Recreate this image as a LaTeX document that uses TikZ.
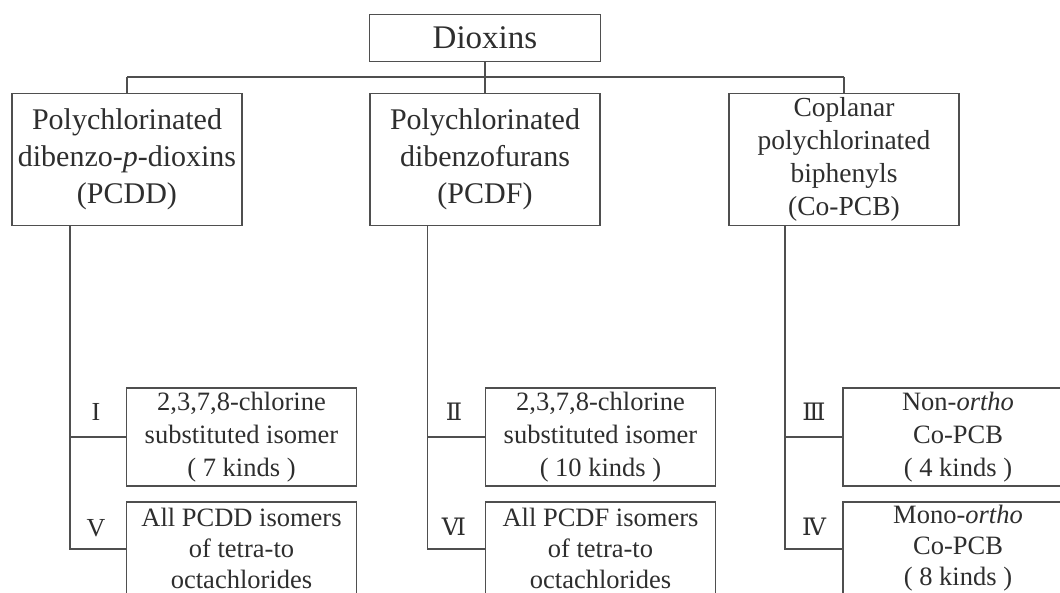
\documentclass[tikz,border=0pt]{standalone}
\usepackage{fontspec}
\setmainfont{Liberation Serif}
\newfontfamily\romfont{DejaVu Serif}
\definecolor{linec}{HTML}{4F4F4F}
\definecolor{textc}{HTML}{2E2E2E}
\begin{document}
\begin{tikzpicture}[x=1pt,y=-1pt,
  box/.style={draw=linec, line width=1.4pt, align=center, inner sep=0pt, text=textc},
  topbox/.style={box, minimum width=230pt, minimum height=132pt, font=\fontsize{30}{37}\selectfont},
  subbox/.style={box, minimum width=230pt, font=\fontsize{26.5}{33}\selectfont},
  subtext/.style={align=center, inner sep=0pt, text=textc, font=\fontsize{26.5}{31}\selectfont},
  conn/.style={draw=linec, line width=1.4pt},
  lab/.style={text=textc, inner sep=0pt, font=\fontsize{26}{30}\selectfont},
  rlab/.style={lab, font=\romfont\fontsize{24}{28}\selectfont}]
\useasboundingbox (0,0) rectangle (1060,593);
\clip (0,0) rectangle (1060,593);
\fill[white] (0,0) rectangle (1060,593);
% top
\node[box, minimum width=230.5pt, minimum height=46.5pt, font=\fontsize{33}{38}\selectfont] (dio) at (485,38) {Dioxins};
\node[topbox] (pcdd) at (127,159.5) {Polychlorinated\\dibenzo-\textit{p}-dioxins\\(PCDD)};
\node[topbox] (pcdf) at (485,159.5) {Polychlorinated\\dibenzofurans\\(PCDF)};
\node[topbox, font=\fontsize{27.5}{33}\selectfont] (copcb) at (844,159.5) {Coplanar\\polychlorinated\\biphenyls\\(Co-PCB)};
\coordinate (bar) at (485,77);
\draw[conn] (dio.south) -- (bar);
\draw[conn, line width=2pt] (pcdd.north |- bar) -- (copcb.north |- bar);
\draw[conn] (pcdd.north |- bar) -- (pcdd.north);
\draw[conn] (bar) -- (pcdf.north);
\draw[conn] (copcb.north |- bar) -- (copcb.north);
% sub boxes (upper row)
\node[subbox, minimum height=98pt] (b1) at (241.5,437) {2,3,7,8-chlorine\\substituted isomer\\( 7 kinds )};
\node[subbox, minimum height=98pt] (b2) at (600.5,437) {2,3,7,8-chlorine\\substituted isomer\\( 10 kinds )};
\node[subbox, minimum height=98pt] (b3) at (958,437) {Non-\textit{ortho}\\Co-PCB\\( 4 kinds )};
% sub boxes (lower row, cut by the page edge)
\node[box, minimum width=230pt, minimum height=94pt] (b5) at (241.5,549) {};
\node[box, minimum width=230pt, minimum height=94pt] (b6) at (600.5,549) {};
\node[box, minimum width=230pt, minimum height=94pt] (b4) at (958,549) {};
\node[subtext] (t5) at ([yshift=1pt]b5.center) {All PCDD isomers\\of tetra-to\\octachlorides};
\node[subtext] (t6) at ([yshift=1pt]b6.center) {All PCDF isomers\\of tetra-to\\octachlorides};
\node[subtext] (t4) at ([yshift=1pt]b4.center) {Mono-\textit{ortho}\\Co-PCB\\( 8 kinds )};
% stems
\coordinate (s1) at (70,225.5);
\coordinate (s2) at (427.7,225.5);
\coordinate (s3) at (785,225.5);
\draw[conn] (s1) |- (b5.west);
\draw[conn] (s1 |- b1.west) -- (b1.west);
\draw[conn] (s2) |- (b6.west);
\draw[conn] (s2 |- b2.west) -- (b2.west);
\draw[conn] (s3) |- (b4.west);
\draw[conn] (s3 |- b3.west) -- (b3.west);
% labels
\node[lab] (l1) at (96,412) {I};
\node[lab] (l5) at (96,528) {V};
\node[rlab] (l2) at (454,412) {Ⅱ};
\node[rlab] (l6) at (454,527) {Ⅵ};
\node[rlab] (l3) at (814,412) {Ⅲ};
\node[rlab] (l4) at (814,527) {Ⅳ};
\end{tikzpicture}
\end{document}
